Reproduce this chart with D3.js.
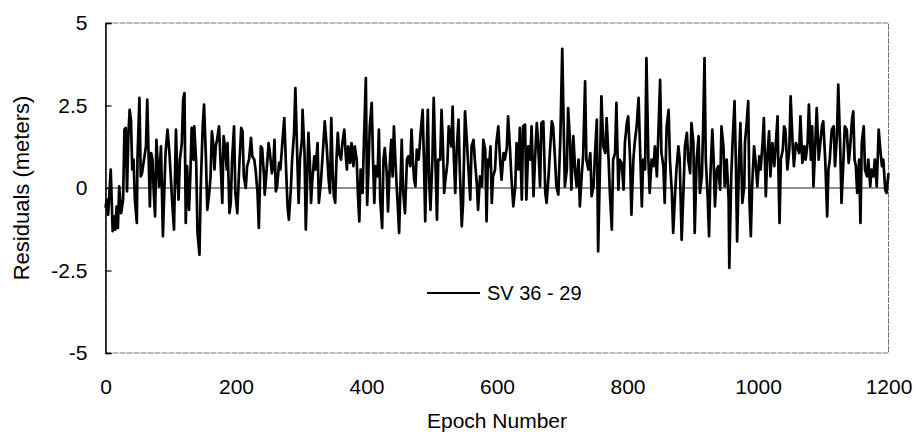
<!DOCTYPE html>
<html><head><meta charset="utf-8">
<script src="https://cdn.jsdelivr.net/npm/d3@7/dist/d3.min.js"></script>
<style>body{margin:0;background:#fff}svg{display:block}text{font-family:"Liberation Sans",Arial,sans-serif}</style>
</head><body><svg id="c" width="916" height="438"></svg>
<script>
const epochs=[0,2,4,8,11,13,15,17,19,21,24,27,29,31,33,35,37,39,41,43,45,48,49,52,54,56,59,62,64,66,68,70,72,74,76,78,80,82,85,88,90,92,95,98,100,102,105,107,108,110,112,114,117,119,121,123,125,128,130,132,135,136,139,141,144,146,149,151,154,156,159,161,163,165,167,169,171,174,176,179,181,
183,186,187,190,192,194,197,199,202,205,208,210,212,215,217,220,223,225,228,230,233,235,238,240,243,244,247,250,252,255,257,259,261,263,266,268,271,274,277,279,281,284,286,289,291,294,296,298,301,302,305,307,309,311,313,315,317,320,322,325,327,330,332,335,336,339,342,344,346,348,350,352,354,356,358,361,363,366,368,370,372,375,377,380,
382,385,387,389,391,394,396,399,401,403,405,408,410,412,414,417,419,421,424,426,428,431,433,436,438,440,442,444,446,448,450,452,454,456,459,462,464,467,469,471,473,475,477,480,483,486,488,490,492,494,496,498,501,503,506,508,510,513,515,517,519,521,524,526,530,532,534,536,538,541,543,546,548,551,554,556,559,561,564,566,569,571,574,577,579,
582,584,586,588,590,592,594,597,599,602,605,607,610,612,615,617,620,622,625,628,630,633,635,638,640,643,645,648,651,653,656,658,661,663,666,668,671,674,676,679,681,684,686,689,691,694,697,698,700,702,704,707,709,712,714,717,720,722,725,727,730,732,735,737,740,743,745,748,750,753,755,758,760,763,766,768,771,773,776,778,
781,783,786,788,791,794,796,799,801,804,806,809,811,814,817,819,822,824,827,829,832,834,837,840,842,845,847,850,852,855,857,860,863,865,868,870,873,875,878,880,883,886,888,891,893,896,898,901,903,906,909,911,914,916,918,920,923,925,927,930,932,934,937,939,942,944,947,949,952,955,956,959,961,964,966,968,971,973,976,979,
980,983,985,987,989,991,994,996,999,1002,1004,1007,1009,1012,1014,1017,1019,1022,1025,1027,1030,1031,1033,1035,1038,1040,1042,1045,1048,1050,1053,1055,1058,1060,1063,1065,1068,1071,1073,1076,1078,1081,1083,1085,1087,1090,1093,1095,1098,1100,1103,1106,1108,1110,1113,1116,1118,1121,1123,1126,1128,1131,1133,1136,1139,1141,1144,1146,1148,1150,1152,1155,1157,1159,1162,1164,1167,1169,1172,1174,1177,1179,1182,1185,1187,1190,1192,1195,1197,1200];
const residuals=[-0.6,-0.35,-0.81,0.56,-1.31,-0.86,-1.26,-0.56,-1.21,0.05,-0.76,-0.35,1.77,1.82,-0.10,1.57,2.37,2.07,0.56,0.86,-0.35,-1.06,0.86,2.73,0.35,0.45,0.86,1.26,2.68,1.06,-0.56,1.06,0.86,-0.15,-0.86,1.46,0.76,0.05,1.26,-1.46,-0.15,1.06,1.77,1.06,0.35,-0.35,-1.26,0.86,1.77,0.35,-0.35,0.86,1.36,2.68,2.88,-1.06,0.66,-0.66,0.35,1.82,0.86,1.87,0.76,-1.36,-2.02,0.05,1.87,2.53,0.86,-0.66,-0.15,0.35,1.72,1.36,0.56,1.26,1.46,1.87,0.96,-0.45,1.57,
1.26,0.56,1.36,-0.76,-0.45,0.86,1.87,-0.15,-0.76,0.66,1.82,1.72,0.35,0,0.66,0.86,1.52,0.96,0.86,0.56,-0.15,-1.21,1.26,1.21,0.35,-0.2,0.56,1.36,1.06,0.45,0.66,1.46,-0.1,0.05,0.76,0.56,1.36,2.12,0.45,-0.56,-0.96,-0.05,0.86,1.67,3.03,0.86,-0.45,0.86,1.46,2.37,1.06,-1.26,0.25,1.67,0.86,-0.45,0.25,0.96,0.56,1.36,-0.45,0.15,0.76,1.67,2.02,1.26,0.25,-0.15,2.12,0.56,-0.25,-0.45,0.86,1.67,1.06,0.86,1.36,1.77,1.06,0.56,1.26,0.76,1.36,0.66,
1.26,0.86,-0.25,-1.01,0.56,-0.15,1.36,3.33,-0.51,0.56,1.87,2.58,0.86,-0.45,0.66,0.35,1.77,-0.35,-1.21,0.86,1.21,0.45,-0.71,0.86,1.46,0.35,1.87,0.96,0.15,-0.56,-1.36,0.05,1.46,-0.05,-0.76,0.86,0.96,0.66,1.77,0.86,0.25,0.05,1.16,0.86,1.67,2.37,0.86,-1.01,0.86,2.37,0.25,-0.66,0.86,2.73,0.56,-0.96,0.86,0.86,2.37,1.36,-0.15,0.25,0.76,1.87,1.26,2.47,0.86,-0.15,1.06,2.07,0.56,-1.16,-0.45,2.32,1.36,0.66,-0.35,1.26,1.46,0.86,0.15,-0.66,0.35,0.05,1.46,
1.16,-1.01,0.86,0.66,1.26,-0.45,0.35,0.56,1.36,1.87,0.76,0.25,1.06,0.86,1.21,2.17,1.16,0.35,-0.56,0.05,1.36,0.56,1.82,-0.35,1.87,1.92,-0.35,1.26,0.86,1.87,-0.25,0.76,1.97,1.36,0.05,1.97,2.02,-0.15,-0.45,0.35,1.06,2.02,1.87,0.86,0.05,-0.2,1.46,2.37,4.22,2.07,0.05,0.56,2.42,1.36,-0.05,1.57,0.45,0.05,0.86,-0.56,0.45,0.96,3.23,0.86,0.56,1.06,-0.25,0.05,0.96,2.07,-1.92,0.86,2.78,1.26,1.06,2.12,0.86,-0.15,-1.26,0.86,
1.06,2.58,-0.05,0.86,0.76,-0.05,1.36,1.97,2.17,0.86,-0.81,0.86,1.36,1.87,2.73,1.36,-0.56,0.86,0.56,3.94,0.86,-0.15,0.86,0.66,1.26,0.35,1.46,3.28,1.06,0.66,-0.45,1.87,2.37,0.86,-0.15,-1.36,-0.15,0.56,1.26,0.86,-1.57,0.05,1.26,1.67,0.86,0.45,1.97,1.36,-1.36,0.86,1.57,-0.15,0.35,1.87,3.94,0.86,-0.35,-1.46,0.35,1.77,0.86,-0.56,0.56,0.66,-0.05,1.87,1.26,0.05,0.86,-0.35,-2.42,0.35,1.36,2.63,0.86,-1.62,0.86,1.97,-0.45,0.05,
1.36,2.07,2.63,-0.45,-1.46,0.05,1.26,0.86,0.05,0.96,0.56,1.36,2.12,-0.25,0.86,1.72,0.35,1.36,0.66,1.26,2.17,0.86,-1.06,0.86,1.16,1.87,1.77,0.56,1.16,2.78,1.36,0.66,1.36,1.26,1.06,2.17,0.76,1.26,0.86,1.36,2.53,0.86,1.87,0.05,0.96,2.42,0.86,1.26,1.87,2.02,0.86,-0.86,0.56,0.86,1.77,1.87,0.66,1.57,3.13,1.26,-0.45,0.86,1.87,1.77,0.76,1.16,2.07,2.32,0.86,0.66,-0.15,0.86,-1.06,1.36,1.87,0.56,0.35,0.86,0.05,0.56,0.35,0.86,0.05,1.77,1.26,0.66,0.86,-0.05,-0.15,0.45];
const xTicks=[0,200,400,600,800,1000,1200];
const yTicks=[-5,-2.5,0,2.5,5];
const seriesName="SV 36 - 29";
const xTitle="Epoch Number";
const yTitle="Residuals (meters)";

const svg=d3.select("#c");
const m={l:105.5,r:27.5,t:23,b:85};
const W=916-m.l-m.r,H=438-m.t-m.b;
const g=svg.append("g").attr("transform",`translate(${m.l},${m.t})`);
const x=d3.scaleLinear().domain([0,1200]).range([0,W]);
const y=d3.scaleLinear().domain([-5,5]).range([H,0]);

// frame
g.append("rect").attr("x",0).attr("y",0).attr("width",W).attr("height",H)
 .attr("fill","none").attr("stroke","#777").attr("stroke-width",1).attr("stroke-dasharray","6,1");

// zero line
g.append("line").attr("x1",0).attr("x2",W).attr("y1",y(0)).attr("y2",y(0)).attr("stroke","#222").attr("stroke-width",1);

// series
const data=epochs.map((e,i)=>({e,v:residuals[i]}));
g.append("path").datum(data)
 .attr("d",d3.line().x(d=>x(d.e)).y(d=>y(d.v)))
 .attr("fill","none").attr("stroke","#000").attr("stroke-width",2.7).attr("stroke-linejoin","round");

// y axis
const ya=g.append("g").call(d3.axisLeft(y).tickValues(yTicks).tickSize(-6).tickPadding(18).tickFormat(d=>String(d)));
ya.select(".domain").attr("stroke","#000").attr("stroke-width",1.5);
ya.selectAll(".tick line").attr("stroke","#000").attr("stroke-width",1.2);
ya.selectAll(".tick text").attr("font-size",21).attr("fill","#000").attr("font-family","Liberation Sans, Arial, sans-serif");

// x axis (labels only)
const xa=g.append("g").attr("transform",`translate(0,${H})`).call(d3.axisBottom(x).tickValues(xTicks).tickSize(0).tickPadding(26).tickFormat(d=>String(d)));
xa.select(".domain").remove();
xa.selectAll(".tick text").attr("font-size",21).attr("fill","#000").attr("font-family","Liberation Sans, Arial, sans-serif");

// titles
svg.append("text").attr("x",m.l+W/2).attr("y",428).attr("text-anchor","middle").attr("font-size",21).text(xTitle);
svg.append("text").attr("transform",`translate(29,${m.t+y(0)}) rotate(-90)`).attr("text-anchor","middle").attr("font-size",22).text(yTitle);

// legend
const lg=svg.append("g").attr("transform","translate(427,293)");
lg.append("line").attr("x1",0).attr("x2",53).attr("y1",0).attr("y2",0).attr("stroke","#000").attr("stroke-width",2);
lg.append("text").attr("x",60).attr("y",7).attr("font-size",20).text(seriesName);
</script></body></html>
